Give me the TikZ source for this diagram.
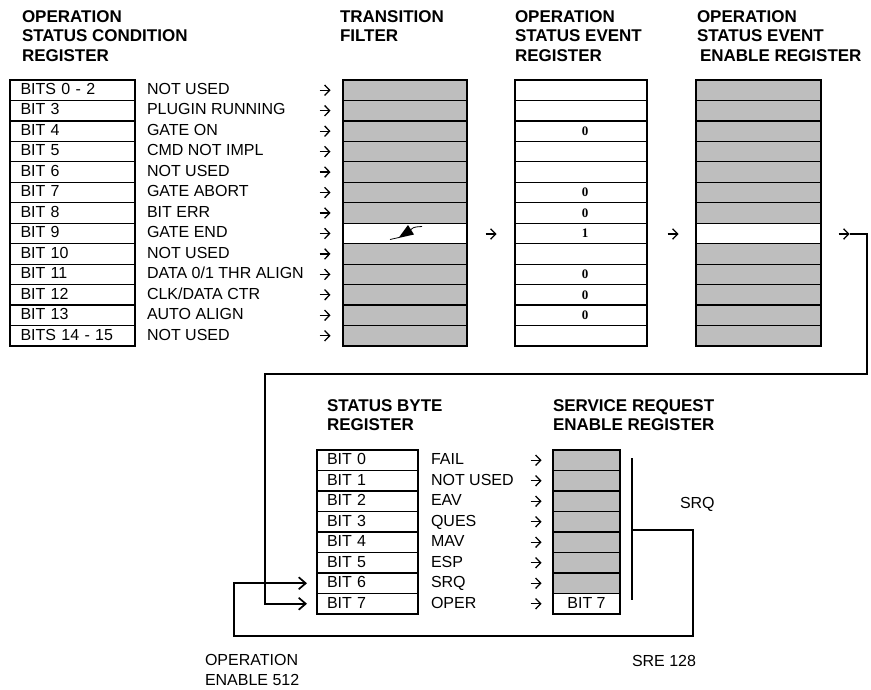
\documentclass[tikz,border=0pt]{standalone}
\usepackage{fontspec}
\setmainfont{Liberation Sans}
\newfontfamily\valfont{Liberation Serif}
\usetikzlibrary{arrows.meta}
\definecolor{regfill}{RGB}{190,190,190}
\begin{document}
\begin{tikzpicture}[x=1pt,y=-1pt,
  every node/.style={inner sep=0pt, outer sep=0pt},
  hdr/.style={font=\fontsize{17}{19.5}\selectfont\bfseries, align=left, anchor=north west},
  lbl/.style={font=\fontsize{16}{19}\selectfont, anchor=base west},
  cellw/.style={draw=black, line width=1.2pt, minimum height=20.46pt, anchor=north west,
    font=\fontsize{16}{19}\selectfont, text height=11.5pt, text depth=3pt},
  val/.style={font=\valfont\fontsize{13}{13}\selectfont\bfseries, anchor=center},
  conn/.style={line width=1.7pt},
  tip/.style={-{Straight Barb[length=7pt,width=12pt]}},
  rarrow/.pic={\draw[line width=1.3pt, -{Straight Barb[length=5pt,width=10.5pt,line width=1.3pt]}] (-5.5,0) -- (5.5,0);}
]
\fill[white] (0,0) rectangle (871,689);
\useasboundingbox (0,0) rectangle (871,689);

% headers
\node[hdr] (h1) at (22,10.5) {OPERATION\\STATUS CONDITION\\REGISTER};
\node[hdr] (h2) at (340,10.5) {TRANSITION\\FILTER};
\node[hdr] (h3) at (515,10.5) {OPERATION\\STATUS EVENT\\REGISTER};
\node[hdr] (h4) at (697,10.5) {OPERATION\\STATUS EVENT\\\hspace*{3pt}ENABLE REGISTER};

% top table
\foreach \i/\b/\l in {0/BITS 0 - 2/NOT USED, 1/BIT 3/PLUGIN RUNNING, 2/BIT 4/GATE ON,
  3/BIT 5/CMD NOT IMPL, 4/BIT 6/NOT USED, 5/BIT 7/GATE ABORT, 6/BIT 8/BIT ERR,
  7/BIT 9/GATE END, 8/BIT 10/NOT USED, 9/BIT 11/{DATA 0/1 THR ALIGN},
  10/BIT 12/{CLK/DATA CTR}, 11/BIT 13/AUTO ALIGN, 12/BITS 14 - 15/NOT USED}{
  \pgfmathsetmacro{\t}{80+20.46*\i}
  \pgfmathsetmacro{\c}{\t+10.23}
  \ifnum\i=7 \def\gf{white}\else\def\gf{regfill}\fi
  \node[cellw, fill=white, minimum width=125pt, text width=104pt, inner xsep=10.5pt, align=left] (oc\i) at (10,\t) {\b};
  \node[lbl] (ol\i) at (147,\c+4.25) {\l};
  \pic at (325,\c) {rarrow};
  \node[cellw, fill=\gf, minimum width=124pt] (tf\i) at (343,\t) {};
  \node[cellw, fill=white, minimum width=132pt] (ev\i) at (515,\t) {};
  \node[cellw, fill=\gf, minimum width=125pt] (en\i) at (696,\t) {};
}
\foreach \i/\v in {2/0,5/0,6/0,7/1,9/0,10/0,11/0}{
  \pgfmathsetmacro{\c}{80+20.46*\i+10.23}
  \node[val] (v\i) at (585,\c) {\v};
}
% transition symbol
\draw[line width=0.8pt] (390,239.5) -- (399,237.5);
\fill (398.5,238) -- (414,234.5) -- (408,225) -- cycle;
\draw[line width=0.8pt] (410.6,229.8) .. controls (414,227) .. (422,226.5);

% flow arrows
\pic at (491,234) {rarrow};
\pic at (673,234) {rarrow};
\pic at (844,234) {rarrow};
\coordinate (outarr) at (849.5,234);

% bottom headers
\node[hdr] (h5) at (327,399.5) {STATUS BYTE\\REGISTER};
\node[hdr] (h6) at (553,399.5) {SERVICE REQUEST\\ENABLE REGISTER};

% status byte table
\foreach \i/\l in {0/FAIL,1/NOT USED,2/EAV,3/QUES,4/MAV,5/ESP,6/SRQ,7/OPER}{
  \pgfmathsetmacro{\t}{450+20.5*\i}
  \pgfmathsetmacro{\c}{\t+10.25}
  \node[cellw, fill=white, minimum width=101pt, minimum height=20.5pt, text width=81pt, inner xsep=10pt, align=left] (sb\i) at (317,\t) {BIT \i};
  \node[lbl] (sl\i) at (431,\c+4.25) {\l};
  \pic at (536,\c) {rarrow};
  \ifnum\i<7
    \node[cellw, fill=regfill, minimum width=67pt, minimum height=20.5pt] (sr\i) at (553,\t) {};
  \else
    \node[cellw, fill=white, minimum width=67pt, minimum height=20.5pt] (sr\i) at (553,\t) {BIT 7};
  \fi
}

% connectors
\coordinate (c1) at (867,374);
\coordinate (c2) at (265,374);
\draw[conn, tip, shorten >=10pt] (outarr) -- (outarr -| c1) -- (c1) -- (c2) -- (c2 |- sb7.west) -- (sb7.west);

\coordinate (bartop) at (632,458);
\coordinate (barbot) at (632,600);
\coordinate (srqj) at (632,530);
\coordinate (d1) at (693,636);
\coordinate (d2) at (234,636);
\draw[conn] (bartop) -- (barbot);
\draw[conn, tip, shorten >=10pt] (srqj) -- (srqj -| d1) -- (d1) -- (d2) -- (d2 |- sb6.west) -- (sb6.west);

% labels
\node[lbl] (srq) at (680,508.3) {SRQ};
\node[lbl] (sre) at (632,666) {SRE 128};
\node[lbl] (opn) at (205,665) {OPERATION};
\node[lbl] (opn2) at (205,685) {ENABLE 512};
\end{tikzpicture}
\end{document}
